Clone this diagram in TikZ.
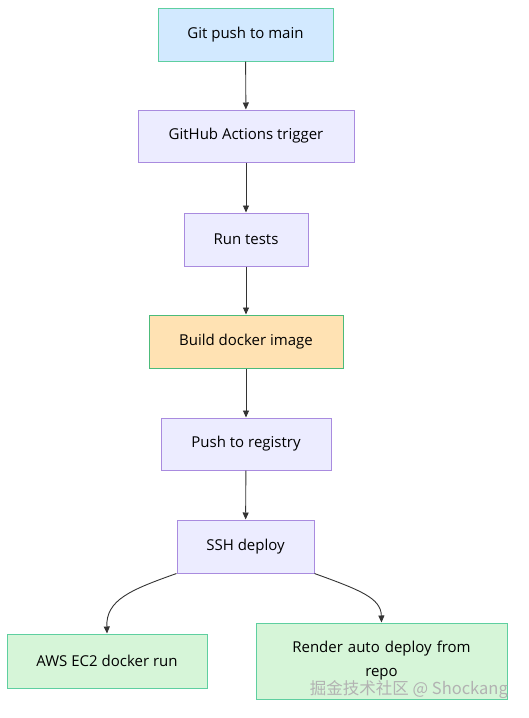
\documentclass[tikz,border=0pt]{standalone}
\usepackage{fontspec}
\setmainfont{Open Sans}
\newfontfamily\cjkfont{Noto Sans CJK SC}
\usetikzlibrary{arrows.meta}
\definecolor{blueFill}{HTML}{D2E9FF}
\definecolor{tealLine}{HTML}{5ECFA0}
\definecolor{purpleFill}{HTML}{ECECFF}
\definecolor{purpleLine}{HTML}{A98BDF}
\definecolor{orangeFill}{HTML}{FFE2B3}
\definecolor{greenLine}{HTML}{4CBB7A}
\definecolor{greenFill}{HTML}{D6F5D8}
\definecolor{edgeCol}{HTML}{333333}
\tikzset{
  x=1pt, y=-1pt,
  box/.style={draw, line width=1pt, inner sep=0pt, font=\fontsize{15}{24}\selectfont, align=center},
  bluebox/.style={box, fill=blueFill, draw=tealLine},
  purplebox/.style={box, fill=purpleFill, draw=purpleLine},
  orangebox/.style={box, fill=orangeFill, draw=greenLine},
  greenbox/.style={box, fill=greenFill, draw=tealLine},
  edge/.style={draw=edgeCol, line width=0.9pt, -{Triangle[length=7pt,width=6pt]}},
}
\begin{document}
\begin{tikzpicture}
\useasboundingbox[fill=white] (0,0) rectangle (529,718);
\node[bluebox, minimum width=175pt, minimum height=53pt] (n1) at (245.5,34.5) {Git push to main};
\node[purplebox, minimum width=216pt, minimum height=52pt] (n2) at (246,136) {GitHub Actions trigger};
\node[purplebox, minimum width=124pt, minimum height=53pt] (n3) at (246,239.5) {Run tests};
\node[orangebox, minimum width=194pt, minimum height=53pt] (n4) at (246,341.5) {Build docker image};
\node[purplebox, minimum width=170pt, minimum height=52pt] (n5) at (246,444) {Push to registry};
\node[purplebox, minimum width=137pt, minimum height=53pt] (n6) at (245.5,546.5) {SSH deploy};
\node[greenbox, minimum width=200pt, minimum height=54pt] (n7) at (107,661) {AWS EC2 docker run};
\node[greenbox, minimum width=251pt, minimum height=76pt, text width=220pt] (n8) at (381.5,661) {Render auto deploy from\\repo};
\draw[edge] (n1) -- (n2);
\draw[edge] (n2) -- (n3);
\draw[edge] (n3) -- (n4);
\draw[edge] (n4) -- (n5);
\draw[edge] (n5) -- (n6);
\draw[edge] (n6.south west) .. controls (130,590) and (106,600) .. (n7.north);
\draw[edge] (n6.south east) .. controls (360,590) and (381,598) .. (n8.north);
\node[font=\cjkfont\fontsize{16.5}{18}\selectfont, text=black!30, anchor=east, inner sep=0pt] (wm) at (508,690) {掘金技术社区 @ Shockang};
\end{tikzpicture}
\end{document}
